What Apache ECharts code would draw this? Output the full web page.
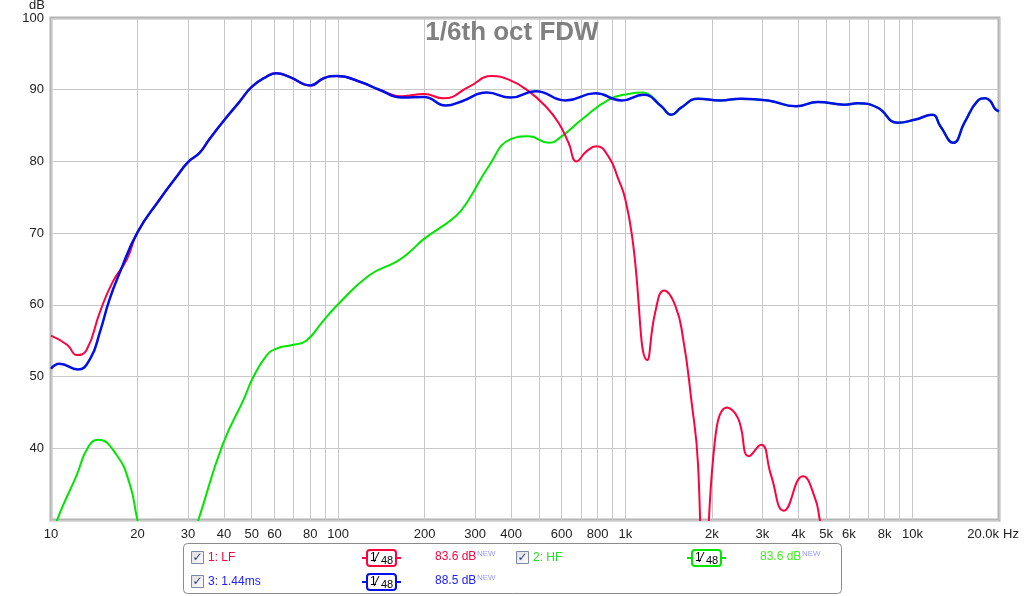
<!DOCTYPE html>
<html><head><meta charset="utf-8">
<script src="https://cdn.jsdelivr.net/npm/echarts@6/dist/echarts.min.js"></script>
<style>html,body{margin:0;padding:0;background:#fff}#c{width:1024px;height:596px}</style>
</head><body><div id="c"></div>
<script>
// ---- data (Hz, dB) ----
const sumFreq = [10, 10.7, 12.4, 13.7, 14.8, 16.0, 17.4, 20, 23.9, 27.4, 30, 32.9, 35.6, 40, 45.3, 50, 56.2, 61, 67.6, 80, 89, 99, 121, 139, 167, 199, 237, 270, 329, 399, 487, 619, 787, 969, 1155, 1334, 1445, 1564, 1791, 2136, 2528, 3140, 3926, 4677, 5806, 6440, 7551, 8870, 10160, 11720, 12500, 13870, 15160, 16820, 17920, 18660, 19410, 20000];
const sumDb = [51.1, 51.8, 51.0, 52.5, 56.2, 60.8, 64.6, 70.1, 74.7, 77.9, 79.9, 81.2, 83.1, 85.7, 88.3, 90.4, 91.8, 92.3, 91.8, 90.6, 91.6, 91.9, 91.0, 90.0, 88.9, 89.0, 87.8, 88.4, 89.6, 88.9, 89.8, 88.5, 89.5, 88.5, 89.3, 87.7, 86.5, 87.5, 88.75, 88.5, 88.75, 88.5, 87.7, 88.3, 87.9, 88.1, 87.5, 85.4, 85.8, 86.5, 84.9, 82.6, 85.4, 88.4, 88.8, 88.4, 87.3, 87.0];

const lfFreq = [10, 11.4, 12.3, 13.3, 14.8, 16.4, 18.4, 20, 23.9, 27.4, 30, 32.9, 35.6, 40, 45.3, 50, 56.2, 61, 67.6, 80, 89, 99, 121, 139, 167, 199, 233, 285, 343, 393, 460, 527, 585, 634, 676, 732, 793, 873, 946, 1000, 1060, 1192, 1271, 1365, 1492, 1589, 1694, 1791, 1879, 2021, 2261, 2467, 2696, 2967, 3212, 3566, 4150, 4571, 4756, 5070];
const lfDb = [55.7, 54.4, 53.0, 53.7, 59.0, 63.2, 66.4, 70.1, 74.7, 77.9, 79.9, 81.2, 83.1, 85.7, 88.3, 90.4, 91.8, 92.3, 91.8, 90.6, 91.6, 91.9, 91.0, 90.0, 89.1, 89.4, 88.8, 90.4, 91.9, 91.4, 89.8, 87.7, 85.4, 82.6, 80.0, 81.4, 82.1, 80.7, 77.5, 74.7, 69.0, 52.3, 59.0, 62.0, 59.9, 55.3, 47.0, 37.7, 12, 38.6, 45.7, 44.2, 38.9, 40.5, 36.3, 31.3, 36.1, 33.1, 30.0, 25];

const hfFreq = [10, 10.57, 12.3, 13.4, 14.6, 16.9, 18.8, 20, 21.5, 25, 29, 32.6, 39.6, 47.1, 50.3, 56.2, 61, 69.2, 77.4, 88, 99, 128, 159, 176.5, 199, 257, 285, 334, 399, 460, 541, 600, 703, 873, 1024, 1155, 1230, 1334, 1445, 1564, 1791, 2136, 2528, 3140, 3926, 4677, 5806, 6440, 7551, 8870, 10160, 11720, 12500, 13870, 15160, 16820, 17920, 18660, 19410, 20000];
const hfDb = [27, 30.3, 36.3, 40, 41.2, 39.1, 35, 30, 25, 18, 24, 30, 40.5, 47.0, 49.7, 52.9, 53.9, 54.4, 55.0, 57.6, 59.9, 64.1, 66.0, 67.3, 69.2, 72.4, 74.7, 79.3, 83.1, 83.5, 82.6, 83.5, 85.8, 88.6, 89.4, 89.6, 89.1, 87.7, 86.5, 87.5, 88.75, 88.5, 88.75, 88.5, 87.7, 88.3, 87.9, 88.1, 87.5, 85.4, 85.8, 86.5, 84.9, 82.6, 85.4, 88.4, 88.8, 88.4, 87.3, 87.0];

const xGridTicks = [10,20,30,40,50,60,70,80,90,100,200,300,400,500,600,700,800,900,1000,2000,3000,4000,5000,6000,7000,8000,9000,10000,20000];
const xLabelTicks = [10,20,30,40,50,60,80,100,200,300,400,600,800,1000,2000,3000,4000,5000,6000,8000,10000,20000];
const titleText = '1/6th oct FDW';
const legendNames = ['1: LF', '2: HF', '3: 1.44ms'];
const legendValues = ['83.6 dB', '83.6 dB', '88.5 dB'];

const RED = '#ff0040', GREEN = '#00e600', BLUE = '#0010e6';
const FONT = '"Liberation Sans", Arial, sans-serif';

function pairs(f, d) { return f.map((v, i) => [v, d[i]]); }
function fmt(v) {
  if (v >= 20000) return '20.0k';
  if (v >= 1000) return (v / 1000) + 'k';
  return String(v);
}

// ---- legend box graphics ----
const g = [];
g.push({type:'rect', shape:{x:183.5,y:543.5,width:658,height:50,r:4}, style:{fill:'#fff', stroke:'#8a8a8a', lineWidth:1}});
function checkbox(x, y) {
  g.push({type:'rect', shape:{x:x+0.5,y:y+0.5,width:12,height:12}, style:{
    fill:{type:'linear',x:0,y:0,x2:1,y2:1,colorStops:[{offset:0,color:'#dcdcdc'},{offset:1,color:'#ffffff'}]},
    stroke:'#7d8aa6', lineWidth:1}});
  g.push({type:'text', x:x+6.5, y:y+7, style:{text:'✓', fill:'#2b3c8c', font:'bold 12px "DejaVu Sans", sans-serif', align:'center', verticalAlign:'middle'}});
}
function smIcon(x, y, color) {
  g.push({type:'line', shape:{x1:x,y1:y+8,x2:x+39,y2:y+8}, style:{stroke:color, lineWidth:2}});
  g.push({type:'rect', shape:{x:x+5,y:y,width:29,height:16,r:3}, style:{fill:'#fff', stroke:color, lineWidth:2}});
  g.push({type:'text', x:x+8, y:y+2, style:{text:'1', fill:'#000', font:'12px ' + FONT}});
  g.push({type:'line', shape:{x1:x+12,y1:y+12,x2:x+17,y2:y+2}, style:{stroke:'#000', lineWidth:1}});
  g.push({type:'text', x:x+19, y:y+5, style:{text:'48', fill:'#000', font:'11px ' + FONT}});
}
function valText(x, y, txt, color) {
  g.push({type:'text', x:x, y:y, style:{text:txt, fill:color, font:'12px ' + FONT, verticalAlign:'middle'}});
  g.push({type:'text', x:x+42, y:y-7, style:{text:'NEW', fill:'#9a9aff', font:'8px ' + FONT}});
}
// row 1
checkbox(191, 551); g.push({type:'text', x:208, y:558, style:{text:legendNames[0], fill:RED, font:'12px ' + FONT, verticalAlign:'middle'}});
smIcon(362, 550, RED); valText(435, 557, legendValues[0], RED);
checkbox(516, 551); g.push({type:'text', x:533, y:558, style:{text:legendNames[1], fill:'#22e022', font:'12px ' + FONT, verticalAlign:'middle'}});
smIcon(687, 550, GREEN); valText(760, 557, legendValues[1], '#44ee22');
// row 2
checkbox(191, 575); g.push({type:'text', x:208, y:582, style:{text:legendNames[2], fill:'#2020ff', font:'12px ' + FONT, verticalAlign:'middle'}});
smIcon(362, 574, BLUE); valText(435, 581, legendValues[2], '#2020ff');
// x axis unit
g.push({type:'text', x:1003, y:534, style:{text:'Hz', fill:'#222', font:'13px ' + FONT, verticalAlign:'middle'}});

const chart = echarts.init(document.getElementById('c'), null, {renderer:'canvas'});
chart.setOption({
  animation: false,
  backgroundColor: '#fff',
  textStyle: {fontFamily: FONT},
  title: {text: titleText, left: 'center', top: 20, padding: 0,
    textStyle: {fontSize: 26, fontWeight: 'bold', color: '#808080', fontFamily: FONT}},
  grid: {left: 51, right: 25, top: 18, bottom: 76, show: true, borderColor: '#b4b4b4', borderWidth: 3, backgroundColor: 'transparent', outerBoundsMode: 'none'},
  xAxis: {
    type: 'log', logBase: 10, min: 10, max: 20000,
    axisLine: {show: false},
    axisTick: {show: false, customValues: xGridTicks},
    splitLine: {show: true, lineStyle: {color: '#c8c8c8', width: 1}},
    axisLabel: {customValues: xLabelTicks, formatter: fmt, color: '#222', fontSize: 13, margin: 8, alignMaxLabel: 'right', showMinLabel: true, showMaxLabel: true, hideOverlap: false}
  },
  yAxis: {
    type: 'value', min: 30, max: 100, interval: 10,
    name: 'dB', nameLocation: 'end', nameGap: 3,
    nameTextStyle: {color: '#222', fontSize: 13, align: 'right', verticalAlign: 'bottom', padding: [0, 6, 0, 0]},
    axisLine: {show: false}, axisTick: {show: false},
    splitLine: {show: true, lineStyle: {color: '#c8c8c8', width: 1}},
    axisLabel: {color: '#222', fontSize: 13, margin: 7, showMinLabel: false}
  },
  series: [
    {name: '2: HF', type: 'line', data: pairs(hfFreq, hfDb), showSymbol: false, smooth: 0.5, clip: true,
      lineStyle: {color: GREEN, width: 2}, itemStyle: {color: GREEN}, z: 2},
    {name: '1: LF', type: 'line', data: pairs(lfFreq, lfDb), showSymbol: false, smooth: 0.5, clip: true,
      lineStyle: {color: RED, width: 2}, itemStyle: {color: RED}, z: 3},
    {name: '3: 1.44ms', type: 'line', data: pairs(sumFreq, sumDb), showSymbol: false, smooth: 0.5, clip: true,
      lineStyle: {color: BLUE, width: 2.5}, itemStyle: {color: BLUE}, z: 4}
  ],
  graphic: g
});
</script></body></html>
